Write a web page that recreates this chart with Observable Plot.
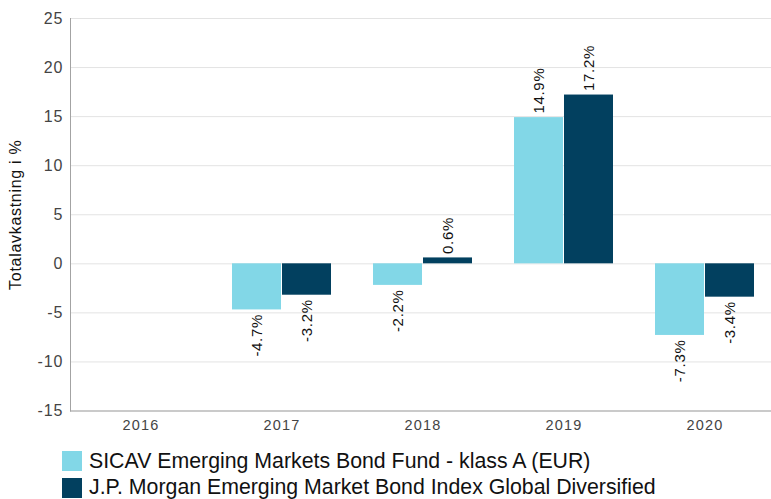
<!DOCTYPE html>
<html><head><meta charset="utf-8">
<script src="https://cdn.jsdelivr.net/npm/d3@7"></script>
<script src="https://cdn.jsdelivr.net/npm/@observablehq/plot@0.6"></script>
<style>
html,body{margin:0;padding:0;background:#fff;overflow:hidden;font-family:"Liberation Sans",Arial,sans-serif;}
#chart{height:440px;}
#chart svg text{letter-spacing:0.7px;}
#chart svg g[aria-label="y-axis tick label"] text{letter-spacing:1px;}
#chart svg g[aria-label="x-axis tick label"] text{letter-spacing:1.2px;}
#legend{margin-left:62px;padding-top:8px;}
.row{display:flex;align-items:center;height:26.5px;font-size:21.3px;color:#111;white-space:nowrap;}
.sw{width:20px;height:20px;margin-right:7px;flex:none;}
</style></head><body>
<div id="chart"></div>
<div id="legend"></div>
<script>
const years = ["2016", "2017", "2018", "2019", "2020"];
const seriesNames = [
  "SICAV Emerging Markets Bond Fund - klass A (EUR)",
  "J.P. Morgan Emerging Market Bond Index Global Diversified"
];
const fundValues = [null, -4.7, -2.2, 14.9, -7.3];
const indexValues = [null, -3.2, 0.6, 17.2, -3.4];
const yTicks = [-15, -10, -5, 0, 5, 10, 15, 20, 25];
const yLabel = "Totalavkastning i %";
const colors = ["#82d7e7", "#02405f"];

const rows = years.flatMap((year, i) => [
  {year, series: seriesNames[0], s: 0, value: fundValues[i]},
  {year, series: seriesNames[1], s: 1, value: indexValues[i]}
]).filter(d => d.value != null);

const W = 771, H = 440, ML = 70, MR = -4;
const bw = (W - MR - ML) / years.length;
const barW = 49, gap = 1;
const inset = [
  {insetLeft: bw / 2 - gap / 2 - barW, insetRight: bw / 2 + gap / 2},
  {insetLeft: bw / 2 + gap / 2, insetRight: bw / 2 - gap / 2 - barW}
];
const off = [-(gap / 2 + barW / 2), gap / 2 + barW / 2];
const fmt = d => d.value.toFixed(1) + "%";

const marks = [
  Plot.ruleY(yTicks, {stroke: "#e3e3e3", strokeOpacity: 1}),
  Plot.ruleY([yTicks[0]], {stroke: "#a3a3a3"}),
  Plot.frame({anchor: "left", stroke: "#a3a3a3"}),
  Plot.axisY(yTicks, {tickSize: 0, tickPadding: 7, fontSize: 16, fill: "#444", label: null, tickFormat: d => String(d)}),
  Plot.axisX({tickSize: 0, tickPadding: 9, fontSize: 14.5, fill: "#444", label: null}),
  Plot.text([yLabel], {frameAnchor: "left", rotate: -90, textAnchor: "middle", dx: -55, fontSize: 16, fill: "#111"})
];
[0, 1].forEach(s => {
  const sub = rows.filter(d => d.s === s);
  marks.push(Plot.barY(sub, {x: "year", y: "value", fill: colors[s], ...inset[s]}));
  marks.push(Plot.text(sub.filter(d => d.value >= 0), {x: "year", y: "value", text: fmt, rotate: -90, textAnchor: "start", dx: off[s], dy: -4, fontSize: 15, fill: "#111"}));
  marks.push(Plot.text(sub.filter(d => d.value < 0), {x: "year", y: "value", text: fmt, rotate: -90, textAnchor: "end", dx: off[s], dy: 4, fontSize: 15, fill: "#111"}));
});

const chart = Plot.plot({
  width: W, height: H,
  marginLeft: ML, marginRight: MR, marginTop: 18, marginBottom: H - 410.5,
  style: {fontFamily: "'Liberation Sans', Arial, sans-serif", background: "#fff"},
  x: {domain: years, padding: 0, axis: null},
  y: {domain: [-15, 25], axis: null},
  marks
});
document.getElementById("chart").append(chart);

const legend = document.getElementById("legend");
seriesNames.forEach((name, i) => {
  const row = document.createElement("div");
  row.className = "row";
  const sw = document.createElement("div");
  sw.className = "sw";
  sw.style.background = colors[i];
  const t = document.createElement("span");
  t.textContent = name;
  row.append(sw, t);
  legend.append(row);
});
</script>
</body></html>
